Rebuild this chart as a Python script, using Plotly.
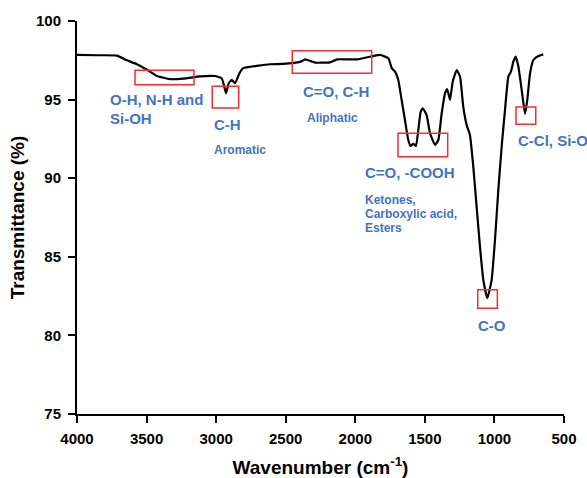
import plotly.graph_objects as go

# FTIR spectrum: wavenumber (cm-1) and transmittance (%)
wavenumber = [4000, 3850, 3713, 3641, 3569, 3497, 3425, 3332, 3238, 3116, 3008,
              2960, 2945, 2929, 2910, 2888, 2864, 2833, 2805, 2708, 2613, 2520, 2397,
              2361, 2320, 2290, 2182, 2131, 1988, 1873, 1822, 1762, 1738, 1714,
              1691, 1667, 1643, 1619, 1602, 1583, 1564, 1547, 1530, 1515, 1487,
              1463, 1427, 1403, 1379, 1355, 1339, 1319, 1300, 1271, 1247, 1224,
              1200, 1176, 1152, 1128, 1104, 1080, 1051, 1020, 996, 972, 948, 924,
              900, 881, 864, 847, 828, 804, 780, 764, 744, 720, 684, 649]
transmittance = [97.84, 97.82, 97.80, 97.50, 97.25, 96.90, 96.50, 96.30, 96.33, 96.48, 96.50,
                 96.36, 95.95, 95.40, 96.04, 96.25, 96.04, 96.67, 97.00, 97.14, 97.25, 97.27, 97.40,
                 97.56, 97.45, 97.35, 97.37, 97.56, 97.56, 97.77, 97.84, 97.63, 97.00, 96.78,
                 96.25, 94.98, 93.70, 92.43, 92.05, 92.18, 92.05, 93.07, 94.23, 94.45, 94.02,
                 92.86, 92.12, 92.43, 94.13, 95.40, 95.66, 94.98, 96.14, 96.88, 96.46, 94.55,
                 93.39, 92.75, 90.74, 88.19, 85.65, 83.53, 82.37, 83.53, 86.08, 89.26, 92.00, 94.34,
                 96.46, 96.78, 97.41, 97.73, 97.10, 95.61, 94.09, 94.98, 96.67, 97.52, 97.77, 97.88]

# Highlighted band regions: (wavenumber start, wavenumber end, T low, T high)
band_x0 = [3583, 3028, 2453, 1693, 845, 1120]
band_x1 = [3159, 2838, 1882, 1336, 703, 979]
band_y0 = [95.95, 94.47, 96.67, 91.37, 93.43, 81.73]
band_y1 = [96.87, 95.85, 98.11, 92.86, 94.53, 82.90]

# Band assignment labels: text, wavenumber, transmittance, font size
label_text = ["O-H, N-H and", "Si-OH", "C-H", "Aromatic", "C=O, C-H", "Aliphatic",
              "C=O, -COOH", "Ketones,", "Carboxylic acid,", "Esters", "C-Cl, Si-O", "C-O"]
label_x = [3777, 3777, 3030, 3030, 2390, 2361, 1945, 1945, 1945, 1945, 845, 1134]
label_y = [94.98, 93.77, 93.39, 91.80, 95.51, 93.85, 90.36, 88.64, 87.75, 86.84, 92.43, 80.61]
label_size = [15, 15, 15, 12, 15, 12, 15, 12, 12, 12, 15, 15]

x_ticks = [4000, 3500, 3000, 2500, 2000, 1500, 1000, 500]
y_ticks = [75, 80, 85, 90, 95, 100]

blue = "#4472C4"
font_family = "Liberation Sans, Arial, sans-serif"

fig = go.Figure()
fig.add_trace(go.Scatter(
    x=wavenumber, y=transmittance, mode="lines",
    line=dict(color="black", width=2.2, shape="spline", smoothing=0.4),
    showlegend=False, hoverinfo="skip",
))

for x0, x1, y0, y1 in zip(band_x0, band_x1, band_y0, band_y1):
    fig.add_shape(type="rect", xref="x", yref="y", x0=x0, x1=x1, y0=y0, y1=y1,
                  line=dict(color="#FF2A2A", width=1.5), fillcolor="rgba(0,0,0,0)")

for t, x, y, s in zip(label_text, label_x, label_y, label_size):
    fig.add_annotation(x=x, y=y, xref="x", yref="y", text=f"<b>{t}</b>",
                       showarrow=False, xanchor="left", yanchor="middle",
                       font=dict(family=font_family, size=s, color=blue))

axis_common = dict(
    showline=True, linecolor="black", linewidth=2, ticks="outside",
    ticklen=7, tickwidth=2, tickcolor="black", showgrid=False, zeroline=False,
    tickfont=dict(family=font_family, size=15, color="black"),
)

fig.update_xaxes(
    range=[4000, 500], tickvals=x_ticks, ticktext=[f"<b>{v}</b>" for v in x_ticks],
    title=dict(text="<b>Wavenumber (cm<sup>-1</sup>)</b>", standoff=18,
               font=dict(family=font_family, size=19, color="black")),
    ticklabelstandoff=3, **axis_common,
)
fig.update_yaxes(
    range=[75, 100], tickvals=y_ticks, ticktext=[f"<b>{v}</b>" for v in y_ticks],
    title=dict(text="<b>Transmittance (%)</b>", standoff=6,
               font=dict(family=font_family, size=19, color="black")),
    ticklabelstandoff=4, **axis_common,
)

fig.update_layout(
    width=587, height=478,
    margin=dict(l=77, r=23, t=21, b=64, autoexpand=False),
    plot_bgcolor="white", paper_bgcolor="white",
    font=dict(family=font_family),
)

fig.write_html("out.html")
